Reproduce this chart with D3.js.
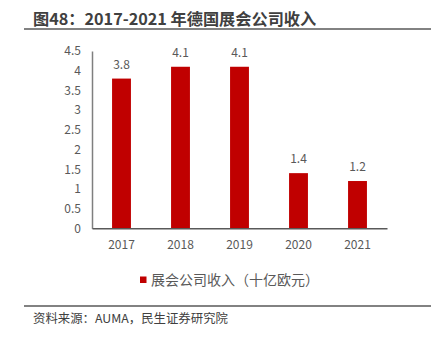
<!DOCTYPE html>
<html><head><meta charset="utf-8">
<script src="https://cdn.jsdelivr.net/npm/d3@7"></script>
<style>
html,body{margin:0;padding:0;background:#fff;}
text{font-family:"Noto Sans CJK SC","Noto Sans",sans-serif;}
</style></head>
<body><svg id="c" width="431" height="340"></svg>
<script>
const years = ["2017","2018","2019","2020","2021"];
const revenue = [3.8, 4.1, 4.1, 1.4, 1.2];
const yTicks = [0,0.5,1,1.5,2,2.5,3,3.5,4,4.5];
const titleText = "图48：2017-2021 年德国展会公司收入";
const legendText = "展会公司收入（十亿欧元）";
const sourceText = "资料来源：AUMA，民生证券研究院";

const svg = d3.select("#c");
const x = d3.scaleBand().domain(years).range([92, 387]).paddingInner(0.68).paddingOuter(0.34);
const y = d3.scaleLinear().domain([0, 4.5]).range([228.3, 51]);

// title
svg.append("text").attr("x", 33).attr("y", 24.5).text(titleText)
  .attr("font-size", 16.2).attr("font-weight", "bold").attr("fill", "#404040");
svg.append("line").attr("x1", 24).attr("x2", 431).attr("y1", 29).attr("y2", 29)
  .attr("stroke", "#595959").attr("stroke-width", 1.5);

// bars
svg.selectAll("rect.bar").data(revenue).enter().append("rect").attr("class","bar")
  .attr("x", (d,i) => x(years[i])).attr("width", x.bandwidth())
  .attr("y", d => y(d)).attr("height", d => y(0) - y(d)).attr("fill", "#C00000");

svg.selectAll("text.val").data(revenue).enter().append("text").attr("class","val")
  .attr("x", (d,i) => x(years[i]) + x.bandwidth()/2).attr("y", d => y(d) - 10)
  .attr("text-anchor","middle").attr("font-size", 12).attr("fill","#595959")
  .text(d => d.toFixed(1));

// y axis
const yAxis = d3.axisLeft(y).tickValues(yTicks).tickSize(0).tickPadding(11)
  .tickFormat(d => String(d));
const gy = svg.append("g").attr("transform","translate(92,0)").call(yAxis);
gy.select(".domain").attr("stroke","#7f7f7f").attr("stroke-width",1.5);
gy.selectAll("text").attr("font-size",12).attr("fill","#595959")
  .style("font-family",'"Noto Sans CJK SC","Noto Sans",sans-serif');

// x axis
const xAxis = d3.axisBottom(x).tickSize(0).tickPadding(12);
const gx = svg.append("g").attr("transform","translate(0,228.3)").call(xAxis);
gx.select(".domain").attr("stroke","#595959").attr("stroke-width",1.5);
gx.selectAll("text").attr("font-size",12).attr("fill","#595959")
  .style("font-family",'"Noto Sans CJK SC","Noto Sans",sans-serif');

// legend
svg.append("rect").attr("x",140).attr("y",276.5).attr("width",6.5).attr("height",6.5).attr("fill","#C00000");
svg.append("text").attr("x",151).attr("y",285).text(legendText)
  .attr("font-size",14).attr("fill","#595959");

// footer
svg.append("line").attr("x1", 24).attr("x2", 431).attr("y1", 306).attr("y2", 306)
  .attr("stroke", "#595959").attr("stroke-width", 1.5);
svg.append("text").attr("x", 33).attr("y", 323).text(sourceText)
  .attr("font-size", 12.4).attr("fill","#404040");
</script></body></html>
